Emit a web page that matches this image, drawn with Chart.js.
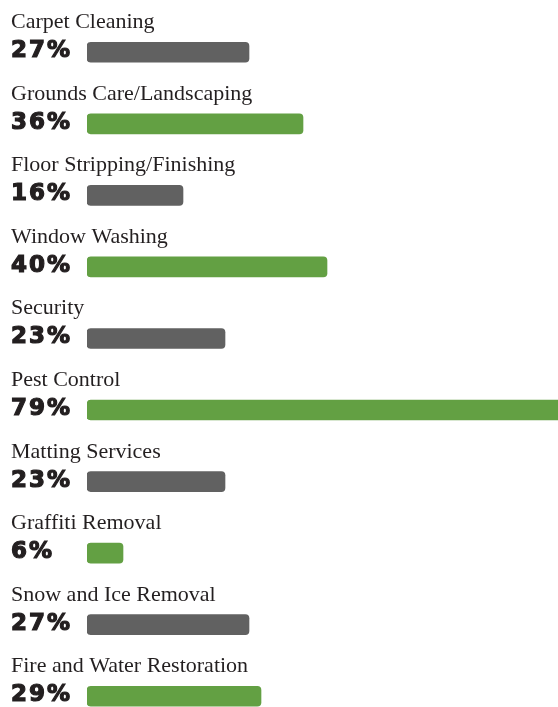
<!DOCTYPE html>
<html>
<head>
<meta charset="utf-8">
<script src="https://cdn.jsdelivr.net/npm/chart.js@4"></script>
<style>
  html, body { margin: 0; padding: 0; background: #fff; overflow: hidden; height: 707px; }
  #wrap { width: 558px; height: 707px; overflow: hidden; }
</style>
</head>
<body>
<div id="wrap"><canvas id="servicesChart" width="558" height="732"></canvas></div>
<script>
const services = [
    'Carpet Cleaning',
    'Grounds Care/Landscaping',
    'Floor Stripping/Finishing',
    'Window Washing',
    'Security',
    'Pest Control',
    'Matting Services',
    'Graffiti Removal',
    'Snow and Ice Removal',
    'Fire and Water Restoration'
];
const percentages = [27, 36, 16, 40, 23, 79, 23, 6, 27, 29];

const grayBar = '#616161';
const greenBar = '#63a043';
const textColor = '#231f20';

// names above each bar, percent to the left of it
const labelPlugin = {
    id: 'serviceLabels',
    afterDatasetsDraw(chart) {
        const ctx = chart.ctx;
        const meta = chart.getDatasetMeta(0);
        ctx.save();
        meta.data.forEach((bar, i) => {
            ctx.fillStyle = textColor;
            ctx.strokeStyle = textColor;
            ctx.textAlign = 'left';
            ctx.textBaseline = 'alphabetic';
            ctx.font = '22px "Liberation Serif", serif';
            ctx.fillText(services[i], 11, bar.y - 24);

            // heavy percent figure
            ctx.font = 'bold 23px "DejaVu Sans", sans-serif';
            ctx.letterSpacing = '2px';
            ctx.lineWidth = 1.2;
            const txt = percentages[i] + '%';
            ctx.fillText(txt, 11, bar.y + 5);
            ctx.strokeText(txt, 11, bar.y + 5);
            ctx.letterSpacing = '0px';
        });
        ctx.restore();
    }
};

new Chart(document.getElementById('servicesChart'), {
    type: 'bar',
    data: {
        labels: services,
        datasets: [{
            data: percentages,
            backgroundColor: percentages.map((v, i) => i % 2 === 0 ? grayBar : greenBar),
            borderRadius: 4,
            borderSkipped: false,
            barThickness: 20
        }]
    },
    options: {
        indexAxis: 'y',
        responsive: false,
        animation: false,
        layout: { padding: { top: 16.5, left: 87, right: 0, bottom: 0 } },
        scales: {
            x: { display: false, min: 0, max: 78.5 },
            y: { display: false }
        },
        plugins: {
            legend: { display: false },
            tooltip: { enabled: false }
        }
    },
    plugins: [labelPlugin]
});
</script>
</body>
</html>
